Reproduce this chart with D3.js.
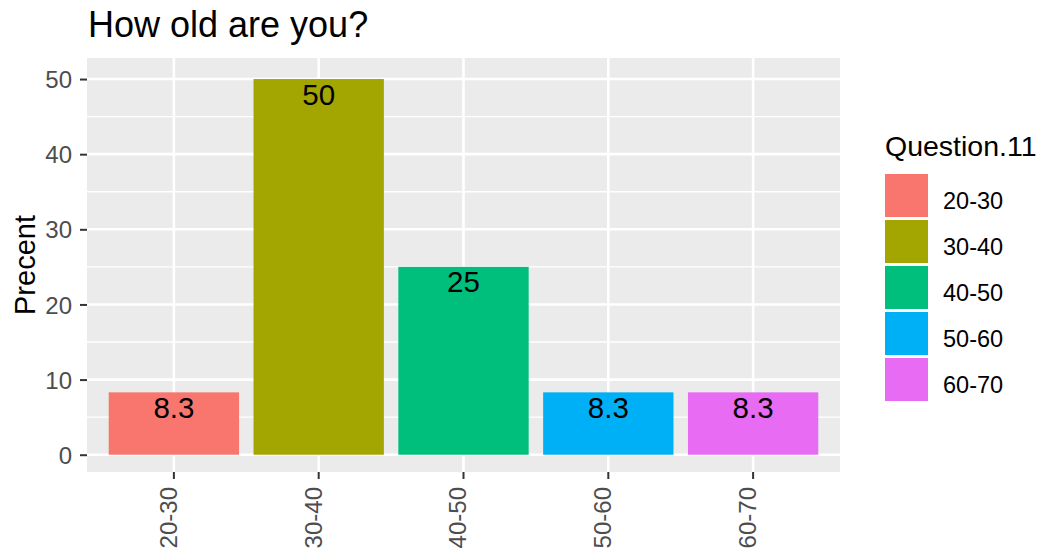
<!DOCTYPE html>
<html>
<head>
<meta charset="utf-8">
<script src="https://cdn.jsdelivr.net/npm/d3@7"></script>
<style>
  html, body { margin: 0; padding: 0; background: #fff; }
  svg { display: block; font-family: "Liberation Sans", Arial, sans-serif; }
</style>
</head>
<body>
<div id="chart"></div>
<script>
// data
var categories = ['20-30', '30-40', '40-50', '50-60', '60-70'];
var percents   = [8.3, 50, 25, 8.3, 8.3];
var colors     = ['#F8766D', '#A3A500', '#00BF7D', '#00B0F6', '#E76BF3'];
var yTicks     = [0, 10, 20, 30, 40, 50];
var yMinor     = [5, 15, 25, 35, 45];

var W = 1043, H = 554;
var panel = { left: 87, right: 840, top: 58, bottom: 472 };

var svg = d3.select('#chart').append('svg')
  .attr('width', W)
  .attr('height', H);

var x = d3.scaleBand()
  .domain(categories)
  .range([panel.left, panel.right])
  .paddingInner(0.1)
  .paddingOuter(0.15);

var y = d3.scaleLinear()
  .domain([-2.3, 52.8])
  .range([panel.bottom, panel.top]);

function cx(d) { return x(d) + x.bandwidth() / 2; }

// panel background
svg.append('rect')
  .attr('x', panel.left)
  .attr('y', panel.top)
  .attr('width', panel.right - panel.left)
  .attr('height', panel.bottom - panel.top)
  .attr('fill', '#EBEBEB');

// grid
var grid = svg.append('g').attr('stroke', '#fff');
grid.selectAll('line.minor')
  .data(yMinor)
  .join('line')
  .attr('class', 'minor')
  .attr('x1', panel.left).attr('x2', panel.right)
  .attr('y1', function (d) { return y(d); })
  .attr('y2', function (d) { return y(d); })
  .attr('stroke-width', 1.3);
grid.selectAll('line.major')
  .data(yTicks)
  .join('line')
  .attr('class', 'major')
  .attr('x1', panel.left).attr('x2', panel.right)
  .attr('y1', function (d) { return y(d); })
  .attr('y2', function (d) { return y(d); })
  .attr('stroke-width', 2.6);
grid.selectAll('line.vmajor')
  .data(categories)
  .join('line')
  .attr('class', 'vmajor')
  .attr('y1', panel.top).attr('y2', panel.bottom)
  .attr('x1', cx)
  .attr('x2', cx)
  .attr('stroke-width', 2.6);

// bars
svg.append('g')
  .selectAll('rect')
  .data(categories)
  .join('rect')
  .attr('x', function (d) { return x(d); })
  .attr('width', x.bandwidth())
  .attr('y', function (d, i) { return y(percents[i]); })
  .attr('height', function (d, i) { return y(0) - y(percents[i]); })
  .attr('fill', function (d, i) { return colors[i]; });

// value labels inside bar tops
svg.append('g')
  .selectAll('text')
  .data(categories)
  .join('text')
  .attr('x', cx)
  .attr('y', function (d, i) { return y(percents[i]) + 25.5; })
  .attr('text-anchor', 'middle')
  .attr('font-size', '29.5px')
  .attr('fill', '#000')
  .text(function (d, i) { return percents[i]; });

// y axis
var yAxis = d3.axisLeft(y).tickValues(yTicks).tickSize(7).tickPadding(8);
var gy = svg.append('g')
  .attr('transform', 'translate(' + panel.left + ',0)')
  .call(yAxis);
gy.select('.domain').remove();
gy.selectAll('.tick line').attr('stroke', '#333').attr('stroke-width', 2);
gy.selectAll('.tick text')
  .attr('fill', '#4D4D4D')
  .attr('font-size', '24px')
  .attr('font-family', '"Liberation Sans", Arial, sans-serif')
  .attr('dy', '0.36em');

// x axis
var xAxis = d3.axisBottom(x).tickSize(7).tickPadding(0);
var gx = svg.append('g')
  .attr('transform', 'translate(0,' + panel.bottom + ')')
  .call(xAxis);
gx.select('.domain').remove();
gx.selectAll('.tick line').attr('stroke', '#333').attr('stroke-width', 2);
gx.selectAll('.tick text')
  .attr('fill', '#4D4D4D')
  .attr('font-size', '24px')
  .attr('font-family', '"Liberation Sans", Arial, sans-serif')
  .attr('text-anchor', 'end')
  .attr('transform', 'translate(0,15) rotate(-90)')
  .attr('x', 0)
  .attr('y', 0)
  .attr('dy', '0.12em');

// titles
svg.append('text')
  .attr('x', 88)
  .attr('y', 36.5)
  .attr('font-size', '36px')
  .attr('fill', '#000')
  .text('How old are you?');

svg.append('text')
  .attr('transform', 'translate(35,' + ((panel.top + panel.bottom) / 2) + ') rotate(-90)')
  .attr('text-anchor', 'middle')
  .attr('font-size', '29px')
  .attr('fill', '#000')
  .text('Precent');

// legend
var legend = svg.append('g').attr('transform', 'translate(885,0)');
legend.append('text')
  .attr('x', 0)
  .attr('y', 155.5)
  .attr('font-size', '28.5px')
  .attr('fill', '#000')
  .text('Question.11');

var keyStep = 46, keyTop = 174, keySize = 43;
var keys = legend.selectAll('g.key')
  .data(categories)
  .join('g')
  .attr('class', 'key')
  .attr('transform', function (d, i) { return 'translate(0,' + (keyTop + i * keyStep) + ')'; });
keys.append('rect')
  .attr('width', keySize)
  .attr('height', keySize)
  .attr('fill', function (d, i) { return colors[i]; });
keys.append('text')
  .attr('x', 58)
  .attr('y', keySize / 2 + 13)
  .attr('font-size', '23.5px')
  .attr('fill', '#000')
  .text(function (d) { return d; });
</script>
</body>
</html>
